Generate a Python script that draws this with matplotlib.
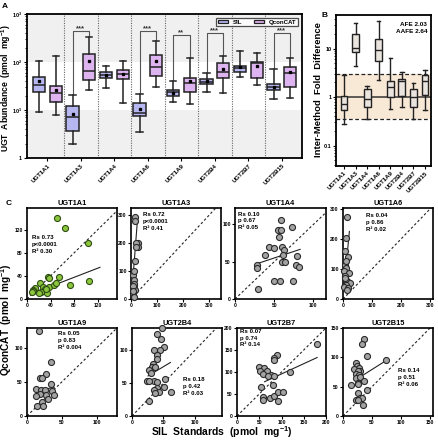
import numpy as np
import matplotlib
matplotlib.use('Agg')
import matplotlib.pyplot as plt
from matplotlib.patches import Patch

plt.rcParams['font.family'] = ['Liberation Sans', 'DejaVu Sans']
plt.rcParams['font.weight'] = 'bold'
plt.rcParams['axes.labelweight'] = 'bold'
plt.rcParams['axes.titleweight'] = 'bold'
plt.rcParams['mathtext.fontset'] = 'custom'
plt.rcParams['mathtext.rm'] = 'Liberation Sans:bold'
plt.rcParams['mathtext.it'] = 'Liberation Sans:bold'
plt.rcParams['mathtext.bf'] = 'Liberation Sans:bold'
plt.rcParams['mathtext.default'] = 'rm'

# ---------------- data ----------------
ugts = ['UGT1A1', 'UGT1A3', 'UGT1A4', 'UGT1A6', 'UGT1A9', 'UGT2B4', 'UGT2B7', 'UGT2B15']

# Panel A: (whislo, q1, median, q3, whishi, mean)
sil_stats = [
    (9.1, 24, 33, 49, 105, 40),
    (1.96, 3.65, 7.1, 12, 20.5, 8.3),
    (29, 46, 54, 62, 83, 54),
    (3.5, 7.5, 8.7, 14, 21.5, 10.5),
    (14.6, 19.6, 24, 26, 40, 23),
    (24, 35, 38, 44, 59, 40),
    (49, 62, 75, 83, 170, 77),
    (17, 26, 30, 35, 71, 30),
]
qcon_stats = [
    (7.9, 14.5, 22.4, 32, 133, 26),
    (26, 42, 65, 147, 330, 105),
    (14, 44, 56, 68, 105, 57),
    (30, 51, 79, 140, 275, 105),
    (13.3, 24, 36, 46, 120, 40),
    (22.6, 46, 62, 95, 133, 71),
    (33, 46, 95, 100, 155, 83),
    (17.7, 30, 58, 79, 120, 62),
]
sig_groups = [1, 3, 4, 5, 7]
sig_labels = ['***', '***', '**', '***', '***']
sig_heights = [440, 440, 365, 400, 400]

# Panel B: (whislo, q1, median, q3, whishi)
fold_stats = [
    (0.28, 0.54, 0.72, 1.05, 2.85),
    (4.4, 8.6, 10.4, 19.6, 34),
    (0.36, 0.61, 0.9, 1.46, 1.69),
    (2.24, 5.5, 9.3, 15.5, 37),
    (0.58, 1.01, 1.58, 2.17, 6.5),
    (0.63, 1.05, 2.14, 2.35, 3.3),
    (0.36, 0.61, 1.01, 1.5, 1.97),
    (0.54, 1.1, 2.17, 2.84, 3.6),
]
band_low, band_high = 0.35, 3.0
afe_text = ['AFE 2.03', 'AAFE 2.64']

# Panel C scatter data
sc_x = {
    'UGT1A1': [50.5, 64.7, 103, 36, 38, 55, 73, 106, 38, 46.5, 50, 22, 26.7, 13.6, 30, 11, 9.6, 24.5, 34.6, 21, 8, 33],
    'UGT1A3': [15, 14, 26, 25, 15, 9, 12, 10, 11, 14, 8, 12, 10, 9, 6, 20, 18, 13],
    'UGT1A4': [59, 72.6, 55, 58, 56, 43, 50, 38, 60, 62, 61, 78.6, 28, 28, 60, 64, 78, 81, 57, 50, 74, 29],
    'UGT1A6': [13.8, 11.4, 8, 17, 5.7, 10, 2, 19, 5.7, 10, 17, 25, 10, 2, 17, 13.8, 6, 12],
    'UGT1A9': [17.8, 34.8, 27.5, 19, 21.7, 33.8, 13, 19.8, 25.5, 36, 18, 27.5, 39, 30, 21, 22.5, 14, 13.4],
    'UGT2B4': [48, 39, 46, 51, 35, 44, 40.5, 40.5, 33.5, 31, 36, 27, 30, 24, 34.5, 40, 27, 53, 51, 39, 34.5, 62, 43, 36, 26.6],
    'UGT2B7': [180, 90, 83, 83, 50, 60, 68.5, 52, 59, 77.5, 70, 83, 118.7, 53, 81, 58.5, 58.5, 73.6, 83, 92, 103.6, 92],
    'UGT2B15': [36, 33, 41, 74, 23, 24.7, 28, 19, 28.7, 25, 22, 27, 23, 30, 36, 25.7, 14.5, 25, 41.5, 25.7, 29, 33.5, 23, 26, 34.5],
}
sc_y = {
    'UGT1A1': [141, 124, 97, 39, 36, 38, 24, 31, 20, 25, 27, 27, 20, 19, 18, 15.6, 14, 12.7, 9.8, 11, 12.7, 18],
    'UGT1A3': [294, 278, 199, 185, 136, 86, 68, 50, 40, 32, 20, 8, 55, 45, 28, 200, 187, 100],
    'UGT1A4': [106, 97, 92.5, 92.5, 83.5, 70, 68, 59, 70, 66, 59, 57, 45.6, 42, 50, 49, 45.6, 43, 24, 24, 24, 13.4],
    'UGT1A6': [274, 202, 160, 139, 113, 102, 93, 88, 78, 63, 55, 52, 47, 41, 36, 30, 70, 125],
    'UGT1A9': [124, 79, 61, 56, 56, 46.6, 39, 38, 38, 36.8, 32, 31, 31, 24.5, 21, 14.7, 14.7, 30],
    'UGT2B4': [134, 125, 118, 105, 101, 101, 93, 87, 79.5, 74.5, 74, 70, 66, 54, 54, 52.5, 53, 56, 44, 42, 40, 37, 37, 35, 23],
    'UGT2B7': [164, 138, 131, 128, 112, 110, 102, 102, 95, 93.5, 90, 92, 99, 67, 71, 42.6, 37, 41, 45, 54.5, 54.5, 35],
    'UGT2B15': [130.5, 122, 103, 95.5, 90.5, 86, 81.7, 80.5, 76, 76, 72, 70.5, 64, 66, 60, 57, 53, 54, 44.5, 40, 30.5, 31, 26.7, 28, 18.6],
}
# regression lines: slope, intercept, x start, x end
fit_slope = {'UGT1A1': 0.395, 'UGT1A3': 12.0, 'UGT1A4': 0.35, 'UGT1A6': 10.0,
             'UGT1A9': 0.144, 'UGT2B4': 0.577, 'UGT2B7': 0.466, 'UGT2B15': 0.627}
fit_icpt = {'UGT1A1': 6, 'UGT1A3': -15, 'UGT1A4': 37.5, 'UGT1A6': 5,
            'UGT1A9': 36, 'UGT2B4': 46.3, 'UGT2B7': 49, 'UGT2B15': 48}
fit_xr = {'UGT1A1': (10, 124), 'UGT1A3': (2, 25), 'UGT1A4': (27, 83), 'UGT1A6': (3, 22),
          'UGT1A9': (14, 39), 'UGT2B4': (25.5, 61), 'UGT2B7': (62, 180), 'UGT2B15': (31.7, 74)}
stat_text = {
    'UGT1A1': 'Rs 0.73\np<0.0001\nR² 0.30',
    'UGT1A3': 'Rs 0.72\np<0.0001\nR² 0.41',
    'UGT1A4': 'Rs 0.10\np 0.67\nR² 0.05',
    'UGT1A6': 'Rs 0.04\np 0.86\nR² 0.02',
    'UGT1A9': 'Rs 0.05\np 0.83\nR² 0.004',
    'UGT2B4': 'Rs 0.18\np 0.42\nR² 0.03',
    'UGT2B7': 'Rs 0.07\np 0.74\nR² 0.14',
    'UGT2B15': 'Rs 0.14\np 0.51\nR² 0.06',
}
ax_lims = {'UGT1A1': (153, 158), 'UGT1A3': (345, 325), 'UGT1A4': (116, 122), 'UGT1A6': (310, 303),
           'UGT1A9': (129, 129), 'UGT2B4': (143, 134), 'UGT2B7': (200, 200), 'UGT2B15': (155, 150)}
ax_ticks = {'UGT1A1': [0, 40, 80, 120], 'UGT1A3': [0, 100, 200, 300], 'UGT1A4': [0, 50, 100],
            'UGT1A6': [0, 100, 200, 300], 'UGT1A9': [0, 50, 100], 'UGT2B4': [0, 50, 100],
            'UGT2B7': [0, 50, 100, 150, 200], 'UGT2B15': [0, 50, 100, 150]}

# ---------------- layout ----------------
W, H = 438, 440
fig = plt.figure(figsize=(W / 100, H / 100), dpi=100)


def rect(l, t, r, b):
    return [l / W, 1 - b / H, (r - l) / W, (b - t) / H]


dark = '#222222'
sil_color = '#b6b6f0'
qcon_color = '#deb4f0'

# ---------------- Panel A ----------------
axA = fig.add_axes(rect(27, 14, 302, 158))
axA.set_yscale('log')
axA.set_ylim(1, 1000)
axA.set_xlim(-0.61, 7.6)
axA.axhspan(1, 10, color='#f0f0f0', zorder=0, lw=0)
axA.axhspan(100, 1000, color='#f0f0f0', zorder=0, lw=0)
for i in range(len(ugts) - 1):
    axA.axvline(i + 0.5, color='#666666', ls=(0, (1, 1.2)), lw=0.8, zorder=0.5)


def mkstats(arr):
    out = []
    for a in arr:
        d = dict(whislo=a[0], q1=a[1], med=a[2], q3=a[3], whishi=a[4], fliers=[])
        if len(a) > 5:
            d['mean'] = a[5]
        out.append(d)
    return out


pos = np.arange(len(ugts))
common = dict(patch_artist=True, widths=0.37, capwidths=0.19, manage_ticks=False,
              whiskerprops=dict(color=dark, lw=1.1), capprops=dict(color=dark, lw=1.1),
              medianprops=dict(color=dark, lw=1.1))
mp = dict(marker='s', markersize=1.4, markerfacecolor='k', markeredgecolor='k')
axA.bxp(mkstats(sil_stats), positions=pos - 0.25, showmeans=True, meanprops=mp,
        boxprops=dict(facecolor=sil_color, edgecolor=dark, lw=1.1), **common)
axA.bxp(mkstats(qcon_stats), positions=pos + 0.25, showmeans=True, meanprops=mp,
        boxprops=dict(facecolor=qcon_color, edgecolor=dark, lw=1.1), **common)

for g, lab, h in zip(sig_groups, sig_labels, sig_heights):
    x0, x1 = g - 0.25, g + 0.25
    y0 = sil_stats[g][4] * 1.12
    y1 = qcon_stats[g][4] * 1.12
    axA.plot([x0, x0, x1, x1], [y0, h, h, y1], color='#555555', lw=0.8)
    axA.text(g, h * 1.02, lab, ha='center', va='baseline', fontsize=5.5, color='#333333')

axA.set_xticks(pos)
axA.set_xticklabels(ugts, rotation=45, ha='right', rotation_mode='anchor', fontsize=4.4)
axA.set_yticks([1, 10, 100, 1000])
axA.set_yticklabels(['1', '$10^1$', '$10^2$', '$10^3$'], fontsize=4.0)
axA.tick_params(axis='both', which='major', length=2.5, width=0.8, pad=1.0)
axA.tick_params(axis='y', which='minor', length=1.5, width=0.6)
for s in axA.spines.values():
    s.set_linewidth(1.3)
handles = [Patch(facecolor=sil_color, edgecolor=dark, lw=0.9), Patch(facecolor=qcon_color, edgecolor=dark, lw=0.9)]
leg = axA.legend(handles, ['SIL', 'QconCAT'], loc='upper right', ncol=2, fontsize=4.4,
                 frameon=True, fancybox=False, edgecolor=dark, handlelength=1.6, handleheight=0.45,
                 columnspacing=2.0, handletextpad=0.8, borderpad=0.28, bbox_to_anchor=(0.997, 0.993))
leg.get_frame().set_linewidth(0.9)
leg.set_zorder(5)
fig.text(6.5 / W, 1 - 88 / H, 'UGT  Abundance  (pmol  mg$^{-1}$)', rotation=90, ha='center', va='center', fontsize=6.2)

# ---------------- Panel B ----------------
axB = fig.add_axes(rect(336, 15, 431, 166))
axB.set_yscale('log')
axB.set_ylim(0.038, 49)
axB.set_xlim(-0.69, 7.52)
axB.axhspan(band_low, band_high, color='#f8e8d6', zorder=0, lw=0)
axB.axhline(band_low, color=dark, ls=(0, (3, 2)), lw=0.9, zorder=1)
axB.axhline(band_high, color=dark, ls=(0, (3, 2)), lw=0.9, zorder=1)
axB.axhline(1, color='#333333', lw=1.1, zorder=1)
axB.bxp(mkstats(fold_stats), positions=pos, showmeans=False, patch_artist=True, widths=0.6,
        capwidths=0.3, manage_ticks=False,
        whiskerprops=dict(color=dark, lw=1.0), capprops=dict(color=dark, lw=1.0),
        medianprops=dict(color=dark, lw=1.0),
        boxprops=dict(facecolor='#e9e4de', edgecolor=dark, lw=1.0))
axB.set_xticks(pos)
axB.set_xticklabels(ugts, rotation=45, ha='right', rotation_mode='anchor', fontsize=4.4)
axB.set_yticks([0.1, 1, 10])
axB.set_yticklabels(['0.1', '1', '10'], fontsize=4.0)
axB.tick_params(axis='both', which='major', length=2.5, width=0.8, pad=0.8)
axB.tick_params(axis='y', which='minor', length=1.5, width=0.6)
for s in axB.spines.values():
    s.set_linewidth(1.3)
axB.text(0.96, 0.955, afe_text[0] + '\n' + afe_text[1], transform=axB.transAxes, ha='right', va='top',
         fontsize=4.6, linespacing=1.5)
fig.text(318.5 / W, 1 - 90 / H, 'Inter-Method  Fold  Difference', rotation=90, ha='center', va='center', fontsize=6.8)

# ---------------- Panel C ----------------
top_cols = [(27, 117), (131, 221), (235, 326), (343, 433)]
bot_cols = [(27, 117), (132, 222), (237, 326), (343, 433)]
text_pos = {'UGT1A1': (0.05, 0.70), 'UGT1A3': (0.13, 0.955), 'UGT1A4': (0.03, 0.96), 'UGT1A6': (0.26, 0.94),
            'UGT1A9': (0.34, 0.965), 'UGT2B4': (0.57, 0.44), 'UGT2B7': (0.035, 0.99), 'UGT2B15': (0.61, 0.545)}
for k, g in enumerate(ugts):
    if k < 4:
        l, r = top_cols[k]
        t, b = 208, 299
    else:
        l, r = bot_cols[k - 4]
        t, b = 328, 416
    ax = fig.add_axes(rect(l, t, r, b))
    xl, yl = ax_lims[g]
    ax.set_xlim(0, xl)
    ax.set_ylim(0, yl)
    L = max(xl, yl)
    ax.plot([0, L], [0, L], color=dark, ls=(0, (2.2, 2)), lw=0.8, zorder=1)
    fc = '#8cc63e' if g == 'UGT1A1' else '#a3a3a3'
    ec = '#2e4d12' if g == 'UGT1A1' else '#2a2a2a'
    ax.scatter(sc_x[g], sc_y[g], s=19, facecolor=fc, edgecolor=ec, linewidths=0.8, zorder=3, clip_on=False)
    xs = np.array(fit_xr[g])
    ax.plot(xs, fit_slope[g] * xs + fit_icpt[g], color=dark, lw=0.8, zorder=2)
    ax.set_xticks(ax_ticks[g])
    ax.set_yticks(ax_ticks[g])
    ax.tick_params(labelsize=3.6, length=2, width=0.8, pad=1)
    for s in ax.spines.values():
        s.set_linewidth(1.2)
    ax.set_title(g, fontsize=5.3, pad=2.5)
    tx, ty = text_pos[g]
    ax.text(tx, ty, stat_text[g], transform=ax.transAxes, ha='left', va='top', fontsize=4.4, linespacing=1.45)

fig.text(6.5 / W, 1 - 320 / H, 'QconCAT  (pmol  mg$^{-1}$)', rotation=90, ha='center', va='center', fontsize=7.2)
fig.text(222 / W, 1 - 432 / H, 'SIL  Standards  (pmol  mg$^{-1}$)', ha='center', va='center', fontsize=7.5)

# panel letters
fig.text(5 / W, 1 - 6 / H, 'A', ha='center', va='center', fontsize=6)
fig.text(324 / W, 1 - 15.5 / H, 'B', ha='center', va='center', fontsize=6)
fig.text(9 / W, 1 - 203 / H, 'C', ha='center', va='center', fontsize=6)

fig.savefig('out.png', dpi=100)
